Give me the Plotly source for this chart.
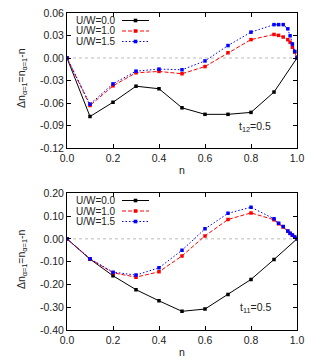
import plotly.graph_objects as go

# ---------------- data ----------------
n_coarse = [0.0, 0.1, 0.2, 0.3, 0.4, 0.5, 0.6, 0.7, 0.8, 0.9, 1.0]
n_fine = [0.0, 0.1, 0.2, 0.3, 0.4, 0.5, 0.6, 0.7, 0.8, 0.9, 0.92, 0.94, 0.96, 0.97, 0.98, 0.99, 1.0]

# top panel: t12 = 0.5
top_u00 = [0.0, -0.078, -0.059, -0.0376, -0.041, -0.0664, -0.0751, -0.0751, -0.0725, -0.0454, 0.0]
top_u10 = [0.0, -0.0633, -0.0371, -0.0197, -0.0179, -0.021, -0.0114, 0.007, 0.0245, 0.0314,
           0.0302, 0.028, 0.0245, 0.021, 0.0144, 0.0079, 0.0]
top_u15 = [0.0, -0.0616, -0.0345, -0.0175, -0.0148, -0.0157, -0.0039, 0.0166, 0.0345, 0.0445,
           0.0445, 0.0445, 0.0389, 0.0296, 0.0187, 0.0087, 0.0]

# bottom panel: t11 = 0.5
bot_u00 = [0.0, -0.089, -0.162, -0.223, -0.272, -0.318, -0.308, -0.244, -0.178, -0.0905, 0.0]
bot_u10 = [0.0, -0.0876, -0.149, -0.168, -0.1445, -0.075, 0.013, 0.085, 0.114, 0.084,
           0.066, 0.052, 0.033, 0.024, 0.016, 0.008, 0.0]
bot_u15 = [0.0, -0.0876, -0.146, -0.159, -0.127, -0.05, 0.044, 0.112, 0.139, 0.088,
           0.068, 0.054, 0.034, 0.025, 0.017, 0.008, 0.0]

legend_labels = ["U/W=0.0", "U/W=1.0", "U/W=1.5"]
x_ticks = [0.0, 0.2, 0.4, 0.6, 0.8, 1.0]
top_yticks = [-0.12, -0.09, -0.06, -0.03, 0.0, 0.03, 0.06]
bot_yticks = [-0.40, -0.30, -0.20, -0.10, 0.0, 0.10, 0.20]

# ---------------- styling ----------------
W, H = 312, 363
ML, MR, MT, MB = 67, 15, 13, 33
PW, PH = W - ML - MR, H - MT - MB
FONT = "Liberation Sans, Arial, sans-serif"
TXT = "#222222"

def px(X):
    return (X - ML) / PW

def py(Y):
    return (H - MB - Y) / PH

styles = [
    dict(color="black", dash="solid"),
    dict(color="#ff0000", dash="4px,2px"),
    dict(color="#0000ff", dash="1.5px,2px"),
]

fig = go.Figure()

panels = [
    ("x", "y", n_coarse, top_u00, n_fine, top_u10, n_fine, top_u15),
    ("x2", "y2", n_coarse, bot_u00, n_fine, bot_u10, n_fine, bot_u15),
]
for xa, ya, xs0, ys0, xs1, ys1, xs2, ys2 in panels:
    for (xs, ys), st, name in zip([(xs0, ys0), (xs1, ys1), (xs2, ys2)], styles, legend_labels):
        fig.add_trace(go.Scatter(
            x=xs, y=ys, xaxis=xa, yaxis=ya, mode="lines+markers", name=name,
            showlegend=False,
            line=dict(color=st["color"], width=1, dash=st["dash"]),
            marker=dict(symbol="square", size=3.5, color=st["color"], line=dict(width=0)),
        ))

top_dom = [py(148), 1.0]
bot_dom = [0.0, py(193.3)]

axis_common = dict(
    automargin=False,
    showgrid=False, zeroline=False, showline=True, linecolor="black", linewidth=1,
    mirror="allticks", ticks="inside", ticklen=4, tickwidth=1, tickcolor="black",
    tickfont=dict(family=FONT, size=10.5, color=TXT),
)

fig.update_layout(
    template="none",
    width=W, height=H,
    margin=dict(l=ML, r=MR, t=MT, b=MB, autoexpand=False),
    paper_bgcolor="white", plot_bgcolor="white",
    showlegend=False,
    xaxis=dict(domain=[0, 1], range=[0, 1], tickvals=x_ticks, ticktext=[f"{v:.1f}" for v in x_ticks],
               anchor="y", title=dict(text="n", font=dict(family=FONT, size=10.5, color=TXT), standoff=4),
               **axis_common),
    yaxis=dict(domain=top_dom, range=[-0.12, 0.06], tickvals=top_yticks,
               ticktext=[f"{v:.2f}" for v in top_yticks], anchor="x", **axis_common),
    xaxis2=dict(domain=[0, 1], range=[0, 1], tickvals=x_ticks, ticktext=[f"{v:.1f}" for v in x_ticks],
                anchor="y2", title=dict(text="n", font=dict(family=FONT, size=10.5, color=TXT), standoff=4),
                **axis_common),
    yaxis2=dict(domain=bot_dom, range=[-0.40, 0.20], tickvals=bot_yticks,
                ticktext=[f"{v:.2f}" for v in bot_yticks], anchor="x2", **axis_common),
)

# zero reference lines
for xr, yr in [("x", "y"), ("x2", "y2")]:
    fig.add_shape(type="line", xref=f"{xr} domain", yref=yr, x0=0, x1=1, y0=0, y1=0,
                  line=dict(color="#aaaaaa", width=0.8, dash="dot"), layer="below")

# y-axis titles
ytitle = "Δn<sub>α=1</sub>=n<sub>α=1</sub>-n"
for ydom in (top_dom, bot_dom):
    fig.add_annotation(text=ytitle, textangle=-90, xref="paper", yref="paper",
                       x=px(22), y=(ydom[0] + ydom[1]) / 2 + 0.008, showarrow=False,
                       xanchor="center", yanchor="middle",
                       font=dict(family=FONT, size=10.5, color=TXT))

# panel labels
fig.add_annotation(text="t<sub>12</sub>=0.5", xref="paper", yref="paper", x=px(255), y=py(127),
                   xanchor="center", yanchor="middle",
                   showarrow=False, font=dict(family=FONT, size=10.5, color=TXT))
fig.add_annotation(text="t<sub>11</sub>=0.5", xref="paper", yref="paper", x=px(255), y=py(308),
                   xanchor="center", yanchor="middle",
                   showarrow=False, font=dict(family=FONT, size=10.5, color=TXT))

# manual legends (text left, sample right, gnuplot style)
for rows_y in ([20.5, 31, 41.5], [200.5, 211, 221.5]):
    for label, st, Y in zip(legend_labels, styles, rows_y):
        fig.add_annotation(text=label, xref="paper", yref="paper", x=px(117), y=py(Y),
                           xanchor="right", yanchor="middle", showarrow=False,
                           borderpad=0,
                           font=dict(family=FONT, size=10, color=TXT))
        fig.add_shape(type="line", xref="paper", yref="paper", x0=px(122), x1=px(149),
                      y0=py(Y), y1=py(Y), line=dict(color=st["color"], width=1, dash=st["dash"]))
        fig.add_shape(type="rect", xref="paper", yref="paper", x0=px(133.7), x1=px(137.3),
                      y0=py(Y + 1.8), y1=py(Y - 1.8), line=dict(width=0), fillcolor=st["color"])

fig.write_html("out.html", config={"displayModeBar": False},
               post_script="document.body.style.margin='0px';")
